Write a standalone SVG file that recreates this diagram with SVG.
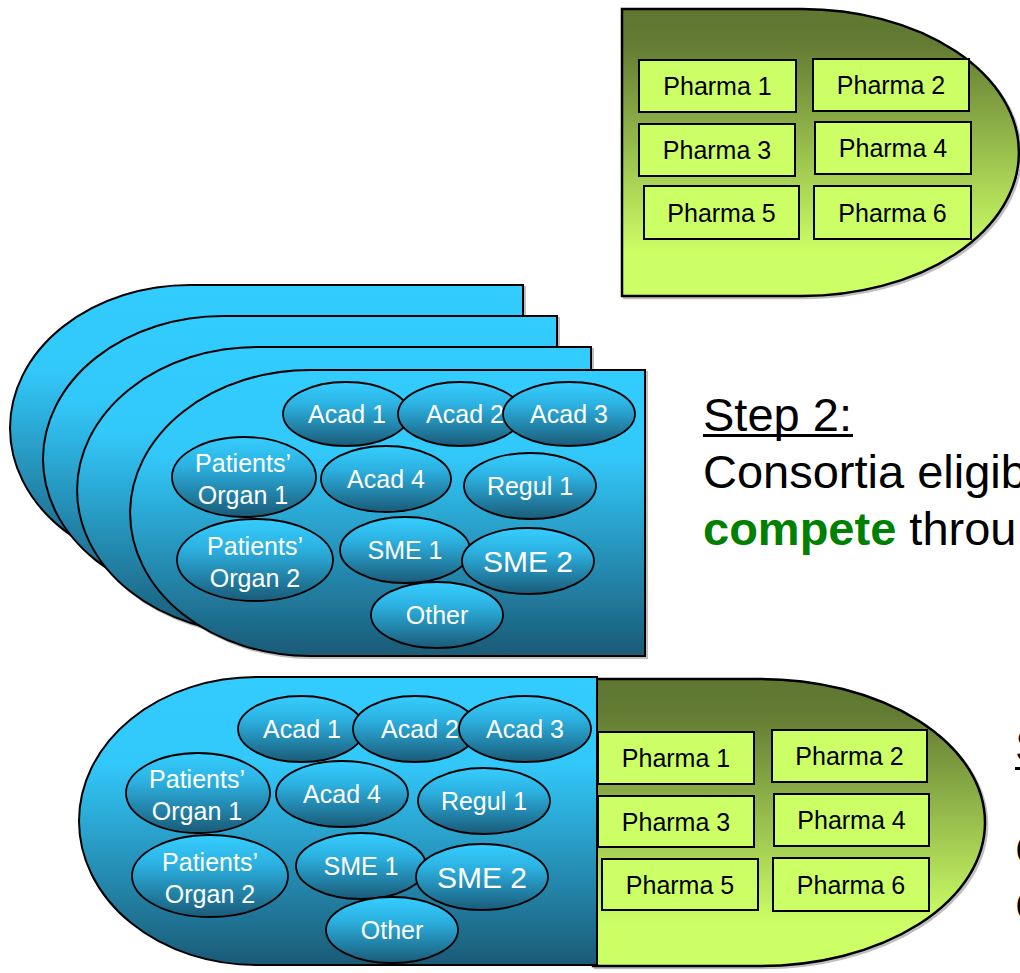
<svg xmlns="http://www.w3.org/2000/svg" width="1020" height="973" viewBox="0 0 1020 973">
<defs>
<linearGradient id="gGreen" x1="0" y1="0" x2="0" y2="1">
<stop offset="0" stop-color="#5f772f"/>
<stop offset="0.12" stop-color="#637b33"/>
<stop offset="0.85" stop-color="#ccff66"/>
<stop offset="1" stop-color="#ccff66"/>
</linearGradient>
<linearGradient id="gBlue" x1="0" y1="0" x2="0" y2="1">
<stop offset="0" stop-color="#33ccff"/>
<stop offset="0.3" stop-color="#32c8fa"/>
<stop offset="1" stop-color="#1a5a76"/>
</linearGradient>
<linearGradient id="gEll" x1="0" y1="0" x2="0" y2="1">
<stop offset="0" stop-color="#35ceff"/>
<stop offset="0.35" stop-color="#2cb2e2"/>
<stop offset="1" stop-color="#1a5b78"/>
</linearGradient>
<filter id="sh" x="-5%" y="-5%" width="115%" height="115%">
<feDropShadow dx="2" dy="2" stdDeviation="0.5" flood-color="#000" flood-opacity="0.25"/>
</filter>
</defs>
<style>
.grn{fill:url(#gGreen);stroke:#000;stroke-width:2.5}
.blu{fill:url(#gBlue);stroke:#000;stroke-width:2}
.box{fill:#ccff66;stroke:#000;stroke-width:2}
.ell{fill:url(#gEll);stroke:#000;stroke-width:1.8}
.pt{font-family:"Liberation Sans",Arial,sans-serif;font-size:25px;fill:#000;text-anchor:middle}
.et{font-family:"Liberation Sans",Arial,sans-serif;font-size:25px;fill:#fff;text-anchor:middle}
.big{font-family:"Liberation Sans",Arial,sans-serif;font-size:47px;fill:#000}
</style>

<!-- Top pharma consortium -->
<g id="pharma-top">
<path class="grn" d="M622,9 H802 A217 143.5 0 0 1 802 296 H622 Z" filter="url(#sh)"/>
<g id="pt-p1"><rect class="box" x="639" y="60" width="157" height="52"/><text class="pt" x="717.5" y="95">Pharma 1</text></g>
<g id="pt-p2"><rect class="box" x="813" y="59" width="156" height="52"/><text class="pt" x="891" y="94">Pharma 2</text></g>
<g id="pt-p3"><rect class="box" x="639" y="124" width="156" height="52"/><text class="pt" x="717" y="159">Pharma 3</text></g>
<g id="pt-p4"><rect class="box" x="815" y="122" width="156" height="52"/><text class="pt" x="893" y="157">Pharma 4</text></g>
<g id="pt-p5"><rect class="box" x="644" y="186" width="155" height="53"/><text class="pt" x="721.5" y="222">Pharma 5</text></g>
<g id="pt-p6"><rect class="box" x="814" y="186" width="157" height="53"/><text class="pt" x="892.5" y="222">Pharma 6</text></g>
</g>

<!-- Stacked consortia -->
<g id="consortium-back3"><path class="blu" d="M190,285 H523 V571 H190 A180 143 0 0 1 190 285 Z" filter="url(#sh)"/></g>
<g id="consortium-back2"><path class="blu" d="M223,316 H557 V602 H223 A180 143 0 0 1 223 316 Z" filter="url(#sh)"/></g>
<g id="consortium-back1"><path class="blu" d="M257,347 H591 V633 H257 A180 143 0 0 1 257 347 Z" filter="url(#sh)"/></g>
<g id="consortium-front">
<path class="blu" d="M310,370 H645 V656 H310 A180 143 0 0 1 310 370 Z" filter="url(#sh)"/>
<g id="f-acad1"><ellipse class="ell" cx="346" cy="414" rx="63" ry="32"/><text class="et" x="347" y="423">Acad 1</text></g>
<g id="f-acad2"><ellipse class="ell" cx="460" cy="414" rx="62" ry="32"/><text class="et" x="465" y="423">Acad 2</text></g>
<g id="f-acad3"><ellipse class="ell" cx="569" cy="414" rx="66" ry="32"/><text class="et" x="569" y="423">Acad 3</text></g>
<g id="f-po1"><ellipse class="ell" cx="244" cy="477" rx="72" ry="40"/><text class="et" x="243" y="472">Patients’</text><text class="et" x="243" y="504">Organ 1</text></g>
<g id="f-acad4"><ellipse class="ell" cx="386" cy="479" rx="65" ry="33"/><text class="et" x="386" y="488">Acad 4</text></g>
<g id="f-regul1"><ellipse class="ell" cx="530" cy="486" rx="66" ry="33"/><text class="et" x="530" y="495">Regul 1</text></g>
<g id="f-po2"><ellipse class="ell" cx="255" cy="560" rx="78" ry="41"/><text class="et" x="255" y="555">Patients’</text><text class="et" x="255" y="587">Organ 2</text></g>
<g id="f-sme1"><ellipse class="ell" cx="405" cy="550" rx="65" ry="33"/><text class="et" x="405" y="559">SME 1</text></g>
<g id="f-sme2"><ellipse class="ell" cx="528" cy="561" rx="66" ry="33"/><text class="et" x="528" y="572" style="font-size:30px">SME 2</text></g>
<g id="f-other"><ellipse class="ell" cx="437" cy="615" rx="66" ry="33"/><text class="et" x="437" y="624">Other</text></g>
</g>

<!-- Step 2 text -->
<g id="step2">
<text class="big" x="703" y="431">Step 2:</text>
<rect x="703" y="434" width="150" height="3" fill="#000"/>
<text class="big" x="703" y="488">Consortia eligib</text>
<text class="big" x="703" y="545"><tspan font-weight="bold" fill="#008000">compete</tspan> throu</text>
</g>

<!-- Combined consortium -->
<g id="combined">
<path class="grn" d="M593,679 H760 A225 143.5 0 0 1 760 966 H593 Z" filter="url(#sh)"/>
<path class="blu" d="M256,677 H597 V965 H256 A177 144 0 0 1 256 677 Z"/>
<g id="b-acad1"><ellipse class="ell" cx="301" cy="729" rx="63" ry="33"/><text class="et" x="302" y="738">Acad 1</text></g>
<g id="b-acad2"><ellipse class="ell" cx="415" cy="729" rx="62" ry="33"/><text class="et" x="420" y="738">Acad 2</text></g>
<g id="b-acad3"><ellipse class="ell" cx="525" cy="729" rx="66" ry="33"/><text class="et" x="525" y="738">Acad 3</text></g>
<g id="b-po1"><ellipse class="ell" cx="198" cy="793" rx="72" ry="40"/><text class="et" x="197" y="788">Patients’</text><text class="et" x="197" y="820">Organ 1</text></g>
<g id="b-acad4"><ellipse class="ell" cx="342" cy="794" rx="66" ry="33"/><text class="et" x="342" y="803">Acad 4</text></g>
<g id="b-regul1"><ellipse class="ell" cx="484" cy="801" rx="66" ry="33"/><text class="et" x="484" y="810">Regul 1</text></g>
<g id="b-po2"><ellipse class="ell" cx="210" cy="876" rx="78" ry="41"/><text class="et" x="210" y="871">Patients’</text><text class="et" x="210" y="903">Organ 2</text></g>
<g id="b-sme1"><ellipse class="ell" cx="361" cy="866" rx="65" ry="33"/><text class="et" x="361" y="875">SME 1</text></g>
<g id="b-sme2"><ellipse class="ell" cx="482" cy="877" rx="66" ry="33"/><text class="et" x="482" y="888" style="font-size:30px">SME 2</text></g>
<g id="b-other"><ellipse class="ell" cx="392" cy="930" rx="66" ry="33"/><text class="et" x="392" y="939">Other</text></g>
<g id="b-p1"><rect class="box" x="598" y="732" width="156" height="52"/><text class="pt" x="676" y="767">Pharma 1</text></g>
<g id="b-p2"><rect class="box" x="772" y="730" width="155" height="52"/><text class="pt" x="849.5" y="765">Pharma 2</text></g>
<g id="b-p3"><rect class="box" x="598" y="796" width="156" height="51"/><text class="pt" x="676" y="831">Pharma 3</text></g>
<g id="b-p4"><rect class="box" x="774" y="794" width="155" height="52"/><text class="pt" x="851.5" y="829">Pharma 4</text></g>
<g id="b-p5"><rect class="box" x="602" y="859" width="156" height="51"/><text class="pt" x="680" y="894">Pharma 5</text></g>
<g id="b-p6"><rect class="box" x="773" y="858" width="156" height="53"/><text class="pt" x="851" y="894">Pharma 6</text></g>
</g>

<!-- Step 3 text (cut at right edge) -->
<g id="step3">
<text class="big" x="1015" y="762">S</text>
<rect x="1015" y="767" width="10" height="3" fill="#000"/>
<text class="big" x="1015" y="866">C</text>
<text class="big" x="1015" y="922">C</text>
</g>
</svg>
